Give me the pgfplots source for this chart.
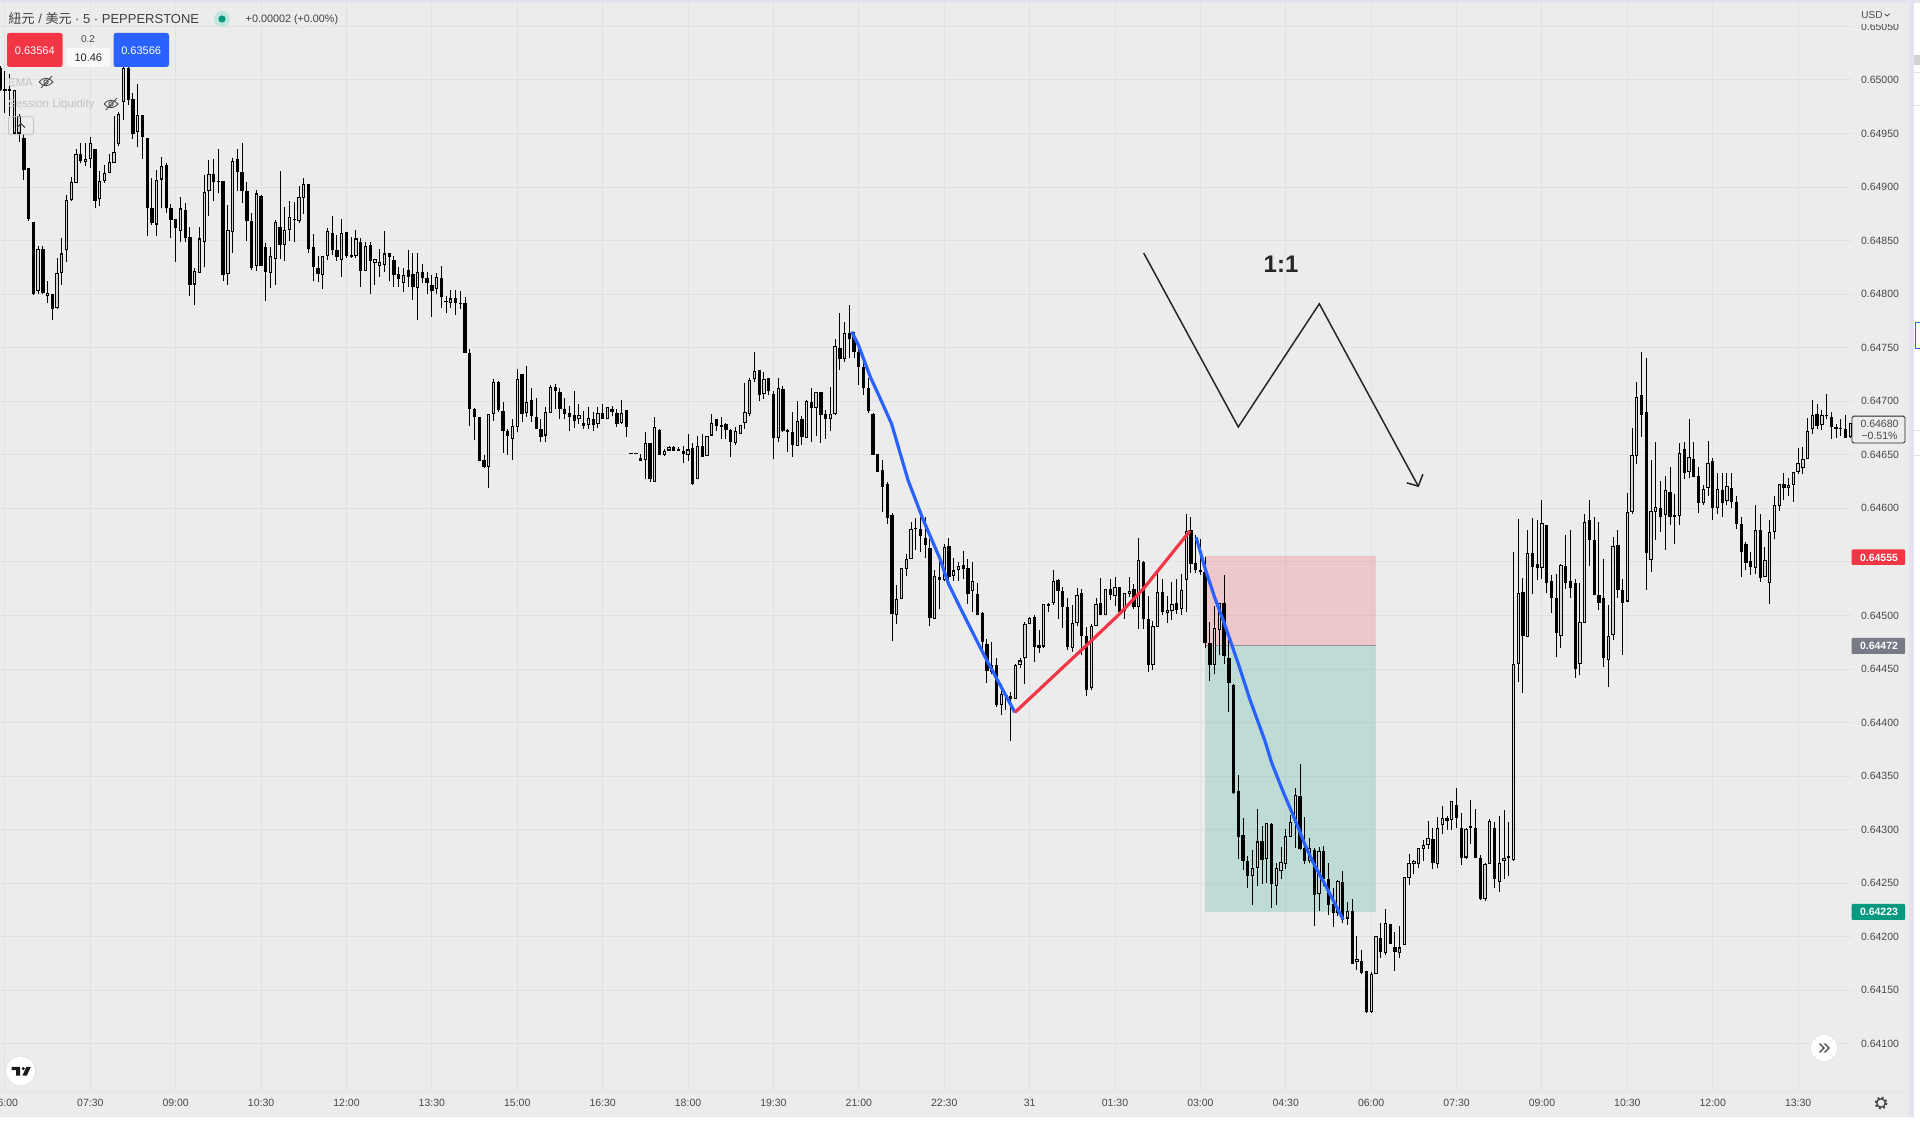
\documentclass[border=0pt]{standalone}
\usepackage{fontspec}
\setmainfont{Liberation Sans}
\newfontfamily\cjk{Noto Sans CJK TC}
\usepackage{pgfplots}
\usepackage{pgfplotstable}
\pgfplotsset{compat=1.18}

\definecolor{paneBg}{HTML}{ECECEC}
\definecolor{gridc}{HTML}{E1E1E1}
\definecolor{edge}{HTML}{E2E3EE}
\definecolor{txt}{HTML}{46484D}
\definecolor{tvRed}{HTML}{F23645}
\definecolor{tvBlue}{HTML}{2962FF}
\definecolor{tvGreen}{HTML}{089981}
\definecolor{tvGray}{HTML}{787B86}
\definecolor{faded}{HTML}{C2C3C6}
\definecolor{inner}{HTML}{D4D4D4}

% 5 min bars, x = bar number counted from the first 07:30, prices in 1e-5
\pgfplotstableread{
x high top bot low up
-19 65013 65011 64991 64990 0
-18 65008 64992 64990 64969 1
-17 65006 64992 64990 64966 1
-16 64991 64991 64950 64950 1
-15 64968 64966 64950 64942 1
-14 64950 64946 64916 64907 0
-13 64918 64918 64870 64868 0
-12 64867 64867 64800 64799 0
-11 64845 64842 64803 64800 1
-10 64845 64842 64801 64800 0
-9 64812 64801 64798 64792 1
-8 64800 64800 64786 64776 0
-7 64834 64820 64787 64786 1
-6 64852 64838 64820 64809 1
-5 64893 64888 64841 64830 1
-4 64909 64905 64888 64887 1
-3 64936 64931 64904 64904 1
-2 64941 64931 64924 64922 0
-1 64941 64926 64923 64920 1
0 64947 64941 64926 64918 1
1 64936 64936 64887 64880 0
2 64915 64906 64889 64882 1
3 64921 64913 64906 64904 1
4 64931 64923 64913 64913 1
5 64966 64933 64922 64922 1
6 64970 64968 64940 64938 1
7 65015 65011 64979 64963 1
8 65015 65011 64981 64977 0
9 64988 64982 64950 64945 0
10 64996 64967 64951 64937 1
11 64967 64967 64947 64926 0
12 64946 64946 64880 64854 0
13 64908 64880 64866 64865 0
14 64916 64907 64865 64854 1
15 64928 64920 64907 64880 1
16 64922 64921 64880 64876 0
17 64884 64880 64869 64852 0
18 64870 64870 64862 64830 0
19 64891 64880 64859 64849 1
20 64885 64879 64852 64849 0
21 64863 64853 64809 64798 0
22 64824 64822 64809 64790 1
23 64863 64852 64820 64820 1
24 64911 64895 64849 64825 1
25 64925 64912 64896 64873 1
26 64926 64912 64905 64887 0
27 64936 64906 64905 64894 1
28 64906 64906 64818 64812 0
29 64883 64860 64819 64809 1
30 64927 64924 64858 64838 1
31 64936 64926 64914 64896 0
32 64941 64914 64896 64885 0
33 64905 64896 64868 64850 0
34 64876 64868 64824 64823 0
35 64897 64894 64826 64822 1
36 64893 64892 64826 64826 0
37 64848 64844 64821 64794 0
38 64844 64836 64820 64806 1
39 64869 64867 64833 64809 1
40 64915 64863 64846 64833 0
41 64881 64860 64846 64831 1
42 64887 64872 64860 64850 1
43 64886 64870 64869 64849 0
44 64901 64891 64868 64866 1
45 64908 64903 64890 64875 1
46 64903 64903 64842 64838 0
47 64856 64844 64825 64812 0
48 64836 64824 64819 64811 0
49 64836 64836 64818 64805 1
50 64862 64859 64836 64832 1
51 64873 64857 64841 64837 0
52 64855 64841 64835 64831 0
53 64870 64857 64832 64816 1
54 64858 64858 64836 64834 0
55 64853 64837 64835 64834 1
56 64860 64852 64836 64834 1
57 64852 64849 64822 64807 0
58 64849 64845 64822 64822 1
59 64849 64846 64831 64800 0
60 64833 64833 64829 64809 1
61 64842 64830 64826 64816 1
62 64859 64838 64827 64821 1
63 64838 64838 64835 64812 0
64 64836 64832 64818 64807 0
65 64825 64819 64814 64807 0
66 64824 64818 64810 64802 1
67 64841 64823 64816 64807 0
68 64838 64819 64807 64795 0
69 64838 64821 64806 64776 1
70 64828 64821 64815 64810 0
71 64821 64815 64810 64800 0
72 64818 64809 64803 64779 0
73 64820 64816 64805 64800 1
74 64826 64815 64797 64787 0
75 64798 64794 64793 64782 0
76 64804 64796 64792 64787 1
77 64804 64796 64792 64781 0
78 64803 64792 64791 64786 0
79 64797 64792 64745 64745 0
80 64749 64745 64693 64677 0
81 64694 64693 64685 64664 0
82 64685 64685 64644 64644 0
83 64650 64645 64639 64638 0
84 64688 64688 64639 64619 1
85 64721 64718 64688 64682 1
86 64719 64718 64692 64690 0
87 64699 64691 64672 64652 0
88 64674 64672 64668 64650 0
89 64683 64677 64665 64645 1
90 64730 64721 64676 64671 1
91 64725 64725 64688 64681 0
92 64733 64699 64689 64685 1
93 64712 64701 64686 64681 0
94 64703 64685 64674 64674 0
95 64683 64674 64667 64662 0
96 64695 64690 64668 64662 1
97 64715 64713 64689 64689 1
98 64716 64713 64710 64693 0
99 64712 64709 64693 64683 0
100 64703 64693 64688 64683 0
101 64696 64689 64685 64672 0
102 64710 64687 64682 64675 0
103 64697 64687 64683 64679 1
104 64691 64680 64677 64674 0
105 64695 64684 64678 64674 1
106 64690 64683 64678 64672 0
107 64695 64689 64679 64675 1
108 64697 64689 64683 64683 0
109 64695 64695 64683 64683 1
110 64696 64693 64690 64686 0
111 64693 64689 64679 64676 0
112 64701 64689 64680 64679 1
113 64692 64692 64676 64667 0
114 64651 64651 64651 64651 0
115 64651 64651 64651 64651 0
116 64651 64647 64644 64644 0
117 64671 64661 64645 64627 1
118 64661 64661 64627 64625 0
119 64685 64676 64625 64625 1
120 64674 64673 64650 64650 0
121 64655 64654 64650 64649 1
122 64658 64657 64654 64654 1
123 64658 64657 64654 64654 0
124 64657 64655 64654 64654 0
125 64658 64654 64651 64642 0
126 64669 64655 64650 64644 1
127 64661 64656 64623 64622 0
128 64668 64658 64627 64627 1
129 64669 64658 64648 64648 0
130 64668 64668 64649 64649 1
131 64688 64680 64668 64668 1
132 64683 64683 64677 64672 0
133 64685 64678 64676 64665 0
134 64680 64679 64673 64665 0
135 64674 64673 64662 64648 0
136 64676 64672 64661 64659 1
137 64678 64678 64669 64669 1
138 64717 64690 64680 64674 1
139 64722 64720 64688 64686 1
140 64746 64728 64721 64718 1
141 64729 64729 64706 64700 0
142 64727 64721 64707 64702 1
143 64722 64722 64710 64706 0
144 64710 64707 64666 64646 0
145 64722 64712 64666 64662 1
146 64714 64711 64672 64671 0
147 64674 64673 64671 64653 0
148 64690 64671 64659 64648 0
149 64700 64682 64658 64658 1
150 64686 64683 64667 64659 0
151 64701 64700 64666 64666 1
152 64712 64699 64694 64662 0
153 64709 64709 64694 64668 1
154 64709 64709 64687 64661 0
155 64692 64688 64683 64665 0
156 64713 64688 64683 64672 1
157 64758 64752 64688 64687 1
158 64782 64750 64739 64729 0
159 64774 64764 64739 64737 1
160 64790 64764 64758 64740 0
161 64765 64761 64746 64740 0
162 64754 64746 64732 64715 0
163 64739 64732 64712 64706 0
164 64722 64712 64691 64689 0
165 64689 64688 64650 64650 0
166 64651 64651 64634 64634 0
167 64645 64636 64620 64597 0
168 64625 64623 64591 64585 0
169 64596 64594 64501 64476 0
170 64528 64515 64500 64492 1
171 64544 64544 64515 64515 1
172 64557 64553 64543 64537 1
173 64587 64581 64553 64553 1
174 64591 64582 64581 64561 0
175 64592 64581 64574 64559 0
176 64592 64572 64566 64554 0
177 64571 64563 64498 64490 0
178 64542 64537 64497 64497 1
179 64553 64536 64533 64506 0
180 64567 64564 64533 64532 1
181 64572 64565 64536 64533 0
182 64554 64542 64537 64532 1
183 64550 64546 64542 64532 1
184 64560 64547 64543 64534 0
185 64553 64544 64520 64511 0
186 64550 64532 64523 64503 1
187 64530 64520 64500 64500 0
188 64503 64502 64475 64467 0
189 64478 64473 64448 64437 0
190 64475 64454 64447 64445 1
191 64460 64454 64416 64415 0
192 64436 64427 64416 64407 1
193 64426 64426 64425 64412 1
194 64429 64425 64422 64383 0
195 64455 64454 64422 64422 1
196 64460 64458 64454 64451 1
197 64494 64492 64460 64436 1
198 64499 64498 64492 64492 1
199 64500 64499 64471 64457 0
200 64486 64472 64470 64465 0
201 64511 64511 64471 64470 1
202 64512 64511 64509 64503 0
203 64542 64532 64512 64510 1
204 64534 64533 64523 64497 0
205 64527 64523 64508 64488 0
206 64516 64508 64471 64468 0
207 64510 64493 64470 64466 1
208 64526 64519 64493 64490 1
209 64525 64521 64481 64463 0
210 64489 64481 64430 64425 0
211 64492 64490 64432 64430 1
212 64516 64511 64490 64490 1
213 64535 64512 64500 64500 0
214 64525 64525 64500 64500 1
215 64534 64525 64519 64514 0
216 64536 64527 64518 64509 1
217 64527 64527 64503 64503 0
218 64521 64521 64504 64497 1
219 64536 64523 64520 64517 1
220 64529 64525 64508 64506 0
221 64572 64552 64508 64487 1
222 64551 64550 64497 64487 0
223 64518 64497 64454 64447 0
224 64495 64490 64454 64449 1
225 64540 64522 64489 64489 1
226 64534 64522 64503 64500 0
227 64518 64505 64502 64493 1
228 64531 64511 64504 64496 1
229 64534 64512 64505 64501 0
230 64539 64524 64506 64500 1
231 64595 64579 64533 64503 1
232 64592 64580 64548 64540 0
233 64575 64549 64542 64540 0
234 64571 64542 64541 64538 0
235 64555 64541 64474 64470 0
236 64494 64474 64454 64439 0
237 64509 64488 64454 64445 1
238 64512 64512 64486 64463 1
239 64538 64512 64462 64455 0
240 64477 64460 64437 64410 0
241 64436 64435 64334 64333 0
242 64351 64336 64293 64273 0
243 64311 64295 64271 64262 0
244 64275 64271 64257 64246 0
245 64281 64264 64257 64230 1
246 64319 64289 64264 64247 1
247 64303 64289 64272 64249 0
248 64306 64306 64273 64250 1
249 64306 64305 64249 64227 0
250 64269 64264 64247 64230 1
251 64284 64270 64261 64254 1
252 64301 64294 64268 64263 1
253 64314 64307 64293 64293 1
254 64339 64332 64306 64283 1
255 64361 64331 64282 64281 0
256 64312 64283 64271 64268 0
257 64292 64283 64271 64269 1
258 64283 64281 64239 64210 0
259 64284 64280 64240 64224 1
260 64285 64280 64254 64247 0
261 64269 64254 64230 64220 0
262 64246 64231 64222 64209 0
263 64253 64252 64222 64219 1
264 64261 64251 64216 64213 0
265 64232 64224 64217 64211 1
266 64235 64224 64175 64175 0
267 64201 64179 64176 64169 1
268 64188 64177 64166 64165 0
269 64168 64168 64130 64129 0
270 64167 64165 64130 64129 1
271 64201 64201 64165 64165 1
272 64213 64199 64186 64180 0
273 64226 64213 64185 64183 1
274 64212 64212 64193 64193 0
275 64204 64190 64186 64168 0
276 64210 64190 64185 64180 1
277 64256 64256 64192 64192 1
278 64277 64269 64255 64248 1
279 64272 64271 64268 64259 1
280 64283 64283 64268 64264 1
281 64290 64286 64282 64271 1
282 64308 64292 64286 64282 1
283 64302 64291 64269 64263 0
284 64312 64302 64268 64264 1
285 64322 64311 64304 64296 1
286 64313 64311 64308 64300 0
287 64327 64327 64309 64300 1
288 64339 64323 64311 64302 0
289 64316 64302 64274 64267 0
290 64302 64301 64274 64273 1
291 64328 64303 64302 64287 0
292 64319 64302 64274 64274 0
293 64276 64274 64235 64234 0
294 64269 64268 64235 64233 1
295 64310 64308 64268 64268 1
296 64307 64302 64254 64246 0
297 64313 64269 64251 64242 1
298 64318 64274 64271 64254 1
299 64307 64275 64274 64257 0
300 64559 64455 64272 64271 1
301 64590 64521 64455 64438 1
302 64535 64522 64481 64428 0
303 64580 64558 64480 64480 1
304 64591 64558 64545 64520 0
305 64589 64548 64544 64533 0
306 64608 64586 64544 64534 1
307 64584 64584 64530 64521 0
308 64538 64532 64516 64502 0
309 64539 64516 64484 64461 0
310 64548 64547 64481 64470 1
311 64575 64546 64530 64525 0
312 64580 64532 64526 64516 0
313 64534 64530 64450 64442 0
314 64530 64494 64455 64444 1
315 64595 64587 64493 64493 1
316 64608 64589 64570 64546 0
317 64592 64570 64519 64519 0
318 64587 64519 64512 64505 0
319 64553 64516 64460 64452 0
320 64510 64481 64458 64433 1
321 64573 64565 64482 64477 1
322 64580 64566 64524 64516 0
323 64534 64524 64512 64463 0
324 64614 64597 64513 64513 1
325 64675 64650 64597 64595 1
326 64718 64704 64649 64641 1
327 64746 64706 64687 64667 0
328 64740 64690 64558 64524 0
329 64645 64598 64552 64541 1
330 64662 64601 64597 64570 1
331 64626 64600 64592 64578 0
332 64630 64617 64594 64561 1
333 64639 64615 64592 64584 0
334 64613 64594 64592 64567 1
335 64661 64652 64593 64584 1
336 64662 64655 64633 64627 0
337 64683 64648 64634 64628 1
338 64662 64646 64629 64629 0
339 64639 64630 64605 64596 0
340 64622 64618 64605 64603 1
341 64663 64642 64619 64612 1
342 64647 64644 64600 64589 0
343 64633 64618 64600 64595 1
344 64633 64617 64605 64592 0
345 64633 64621 64607 64603 1
346 64633 64619 64606 64600 0
347 64612 64606 64585 64581 0
348 64592 64585 64559 64536 0
349 64569 64567 64549 64542 0
350 64559 64551 64545 64538 0
351 64603 64580 64544 64539 1
352 64595 64580 64535 64531 0
353 64564 64552 64536 64536 1
354 64589 64578 64530 64511 1
355 64612 64603 64578 64571 1
356 64623 64623 64602 64598 1
357 64633 64623 64619 64608 0
358 64628 64622 64619 64612 1
359 64634 64634 64622 64606 1
360 64656 64642 64634 64632 1
361 64657 64646 64638 64632 1
362 64684 64672 64646 64646 1
363 64701 64687 64674 64669 1
364 64697 64688 64677 64674 0
365 64692 64687 64678 64673 1
366 64707 64687 64686 64683 0
367 64690 64685 64676 64665 0
368 64679 64676 64674 64666 0
369 64683 64675 64674 64668 1
370 64687 64674 64666 64666 0
371 64680 64680 64667 64666 1
}\bars

\newcommand{\eyeoff}[3]{%
  \draw[#3,line width=0.9pt] (#1-7,#2) .. controls (#1-3,#2-5) and (#1+3,#2-5) .. (#1+7,#2)
    .. controls (#1+3,#2+5) and (#1-3,#2+5) .. (#1-7,#2);
  \draw[#3,line width=0.9pt] (#1,#2) circle (2.2);
  \draw[#3,line width=0.9pt] (#1-5,#2+6) -- (#1+6,#2-6);
}

\begin{document}
\begin{tikzpicture}
\path[use as bounding box,clip] (0pt,0pt) rectangle (1920pt,1123pt);

% window furniture, coordinates in image pixels
\begin{scope}[x=1pt,y=-1pt,shift={(0pt,1123pt)}]
  \fill[white] (0,0) rectangle (1920,1123);
  \fill[paneBg] (0,0) rectangle (1909,1117);
  \fill[edge] (0,0) rectangle (1920,3.2);
  \fill[edge] (1909,0) rectangle (1914,1117);
  \fill[edge] (0,1116) rectangle (1914,1117);
  \fill[edge] (0,1090.6) rectangle (1909,1091.4);
  \fill[gray!35] (1914,55) rectangle (1920,65);
  \foreach \yy in {72,105,430,455} \fill[edge] (1914,\yy) rectangle (1920,\yy+1);
  \draw[tvBlue,line width=1.2pt] (1920,322.5) -- (1915.5,322.5) -- (1915.5,348.5) -- (1920,348.5);
\end{scope}

\begin{axis}[
  at={(0pt,32pt)}, anchor=south west,
  scale only axis, width=1852pt, height=1087.5pt,
  xmin=-19.035, xmax=371.35, ymin=64056, ymax=65071.4,
  axis line style={draw=none},
  major tick length=0pt,
  grid=major,
  grid style={draw=gridc,line width=1pt},
  xtick={-18,0,...,360},
  xticklabels={06:00,07:30,09:00,10:30,12:00,13:30,15:00,16:30,18:00,19:30,21:00,22:30,31,01:30,03:00,04:30,06:00,07:30,09:00,10:30,12:00,13:30},
  ytick={64100,64150,...,65050},
  yticklabels={0.64100,0.64150,0.64200,0.64250,0.64300,0.64350,0.64400,0.64450,0.64500,0.64550,0.64600,0.64650,0.64700,0.64750,0.64800,0.64850,0.64900,0.64950,0.65000,0.65050},
  yticklabel pos=right,
  scaled y ticks=false,
  x tick label style={font=\fontsize{10.5}{12}\selectfont,text=txt,anchor=center,yshift=-12pt},
  y tick label style={font=\fontsize{10.5}{12}\selectfont,text=txt,anchor=center,xshift=28pt},
]
% 1:1 position box
\addplot[fill=tvRed,fill opacity=0.2,draw=none,forget plot] coordinates {(235,64472)(271,64472)(271,64555)(235,64555)} --cycle;
\addplot[fill=tvGreen,fill opacity=0.2,draw=none,forget plot] coordinates {(235,64223)(271,64223)(271,64472)(235,64472)} --cycle;
\addplot[draw=tvRed,draw opacity=0.25,line width=1pt,forget plot] coordinates {(235,64555)(271,64555)};
\addplot[draw=gray!85,line width=1.6pt,forget plot] coordinates {(235,64472)(271,64472)};

% wicks
\addplot[draw=none,mark=none,mark size=0pt,forget plot,error bars/.cd,y dir=plus,y explicit,error mark=none,
  error bar style={black,line width=1pt}]
  table[x=x,y=low,y error plus expr={\thisrow{high}-\thisrow{low}}] {\bars};
% bodies, black first then the outline of the hollow ones
\addplot[draw=none,mark=none,mark size=0pt,forget plot,error bars/.cd,y dir=plus,y explicit,error mark=none,
  error bar style={black,line width=3.3pt}]
  table[x=x,y=bot,y error plus expr={max(\thisrow{top}-\thisrow{bot},1)}] {\bars};
% inside of the up bars
\addplot[draw=none,mark=none,mark size=0pt,forget plot,error bars/.cd,y dir=plus,y explicit,error mark=none,
  error bar style={inner,line width=1.3pt}]
  table[x expr={(\thisrow{up}>0 && \thisrow{top}-\thisrow{bot}>=3) ? \thisrow{x} : nan},
        y expr={\thisrow{bot}+1},y error plus expr={\thisrow{top}-\thisrow{bot}-2}] {\bars};

% swings drawn by hand on the chart
\addplot[tvBlue,line width=3.2pt,line join=round,forget plot] coordinates {
  (160.5,64765)(161.9,64752.6)(164.4,64723)(166.5,64702.7)(168.9,64679)(172.4,64626)(175.6,64589)(179.1,64553)
  (180.9,64529.6)(183.3,64507.8)(187.2,64473.5)(189,64458)(194.9,64409.5)};
\addplot[tvRed,line width=3.2pt,line join=round,forget plot] coordinates {
  (194.9,64409.5)(211.4,64478)(217,64501.6)(222,64525)(231.8,64578.9)};
\addplot[tvBlue,line width=3.2pt,line join=round,forget plot] coordinates {
  (233.1,64573)(235,64543.7)(237,64517)(239.2,64490.6)(242,64454.8)(244.4,64422)(247.6,64383)(249,64362.8)
  (251.5,64334.7)(253.6,64313)(256,64286.4)(257.8,64269)(260.6,64246)(264.1,64216)};
% sketch of the 1:1 move
\addplot[draw=black!85,line width=1.5pt,line join=miter,forget plot] coordinates {
  (222.05,64838.4)(241.99,64676)(259.06,64791)(279.93,64620.7)};
\addplot[draw=black!85,line width=1.5pt,line join=miter,forget plot] coordinates {
  (277.5,64623.8)(279.93,64620.7)(280.9,64631.9)};
\node[font=\fontsize{24}{26}\selectfont\bfseries,text=black!85] at (axis cs:251,64828) {1:1};
\end{axis}

\begin{scope}[x=1pt,y=-1pt,shift={(0pt,1123pt)}]
  % header
  \node[anchor=west,inner sep=0,text=black!75,font=\fontsize{13}{15}\selectfont] at (8.5,19)
    {{\cjk 紐元} / {\cjk 美元} · 5 · PEPPERSTONE};
  \fill[tvGreen!25] (222,19) circle (8);
  \fill[tvGreen] (222,19) circle (3.6);
  \node[anchor=west,inner sep=0,text=black!75,font=\fontsize{10.8}{13}\selectfont] at (245.5,20) {+0.00002 (+0.00\%)};
  \fill[tvRed,rounded corners=2.5pt] (7,33) rectangle (62.7,67);
  \node[text=white,font=\fontsize{11}{13}\selectfont] at (34.8,50.5) {0.63564};
  \node[text=black!70,font=\fontsize{10}{12}\selectfont] at (88,39.5) {0.2};
  \fill[white!70!paneBg,rounded corners=2.5pt] (66.7,47.7) rectangle (110,67);
  \node[text=black!85,font=\fontsize{11}{13}\selectfont] at (88.3,57.5) {10.46};
  \fill[tvBlue,rounded corners=2.5pt] (113.5,33) rectangle (169,67);
  \node[text=white,font=\fontsize{11}{13}\selectfont] at (141.2,50.5) {0.63566};
  % hidden indicators
  \node[anchor=west,inner sep=0,text=faded,font=\fontsize{11.5}{13}\selectfont] at (8,82.7) {EMA};
  \eyeoff{46}{82}{black!70}
  \node[anchor=west,inner sep=0,text=faded,font=\fontsize{11.5}{13}\selectfont] at (8,104.5) {Session Liquidity};
  \eyeoff{111}{104}{black!70}
  \draw[faded,line width=0.8pt,rounded corners=2pt] (8.4,116.8) rectangle (33.4,134.8);
  \draw[black!75,line width=1.1pt] (17,127.5) -- (21,123.8) -- (25,127.5);

  % price scale
  \fill[paneBg] (1853,3.2) rectangle (1905,24.5);
  \node[text=txt,font=\fontsize{10}{12}\selectfont] at (1872,15) {USD};
  \draw[txt,line width=0.8pt] (1884.5,13.8) -- (1887,16) -- (1889.5,13.8);
  \fill[tvRed,rounded corners=1pt] (1851.7,549.3) rectangle (1905,565);
  \node[text=white,font=\fontsize{10.5}{12}\selectfont\bfseries] at (1879,557.4) {0.64555};
  \fill[tvGray,rounded corners=1pt] (1851.7,638) rectangle (1905,654);
  \node[text=white,font=\fontsize{10.5}{12}\selectfont\bfseries] at (1879,646.2) {0.64472};
  \fill[tvGreen,rounded corners=1pt] (1851.7,904) rectangle (1905,920);
  \node[text=white,font=\fontsize{10.5}{12}\selectfont\bfseries] at (1879,912.2) {0.64223};
  \draw[black!85,fill=paneBg,line width=0.9pt,rounded corners=1.5pt] (1852,416.2) rectangle (1905,443);
  \node[text=txt,font=\fontsize{10.5}{12}\selectfont] at (1879.5,423.6) {0.64680};
  \node[text=txt,font=\fontsize{10.5}{12}\selectfont] at (1879.5,436.2) {−0.51\%};

  % TradingView badge
  \fill[white,draw=black!12,line width=0.8pt] (20.7,1071) circle (15);
  \fill[black!90] (11.7,1067) -- (20.2,1067) -- (20.2,1075.7) -- (16,1075.7) -- (16,1070.2) -- (11.7,1070.2) --cycle;
  \fill[black!90] (23.3,1068.6) circle (1.7);
  \fill[black!90] (26.4,1067) -- (30.8,1067) -- (26.8,1075.7) -- (22.4,1075.7) --cycle;

  % scroll button
  \fill[white,draw=black!10,line width=0.8pt] (1824,1048) circle (13.5);
  \draw[black!75,line width=1.2pt] (1819.5,1043.5) -- (1824,1048) -- (1819.5,1052.5);
  \draw[black!75,line width=1.2pt] (1824.5,1043.5) -- (1829,1048) -- (1824.5,1052.5);

  % settings gear
  \draw[black!75,line width=1.2pt] (1881,1103) circle (4.2);
  \draw[black!75,line width=2pt,dash pattern=on 2pt off 2.4pt] (1881,1103) circle (5.6);
\end{scope}
\end{tikzpicture}
\end{document}
